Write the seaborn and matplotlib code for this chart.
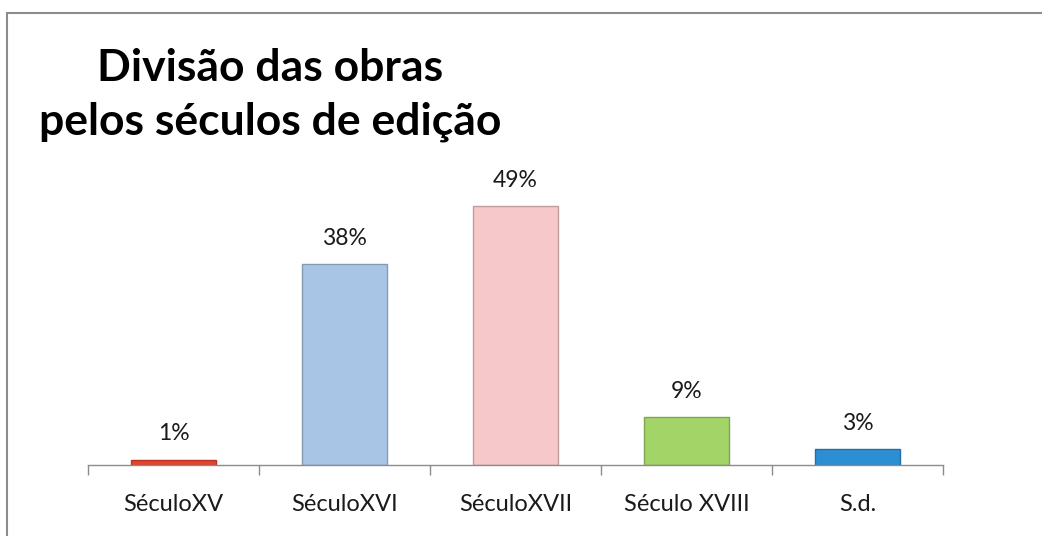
import matplotlib
matplotlib.use("Agg")
import matplotlib.pyplot as plt
import seaborn as sns
import pandas as pd
from matplotlib.lines import Line2D

categories = ["SéculoXV", "SéculoXVI", "SéculoXVII", "Século XVIII", "S.d."]
values = [0.01, 0.38, 0.49, 0.09, 0.03]
labels = ["1%", "38%", "49%", "9%", "3%"]
colors = ["#e8412c", "#a9c5e6", "#f6c8ca", "#a3d467", "#2d8fd3"]
title_lines = ["Divisão das obras", "pelos séculos de edição"]

sns.set_theme(style="white")
plt.rcParams['font.family'] = ['Lato', 'DejaVu Sans']

W, H = 1042, 536
fig = plt.figure(figsize=(W / 100, H / 100), dpi=100)
fig.patch.set_facecolor("white")
fig.lines.append(Line2D([7 / W, 7 / W], [0, 1 - 13 / H], transform=fig.transFigure, color="#8c8c8c", lw=1.5))
fig.lines.append(Line2D([7 / W, 1], [1 - 13 / H, 1 - 13 / H], transform=fig.transFigure, color="#8c8c8c", lw=1.5))

left, right, bottom, top = 88, 943, 465, 190
ax = fig.add_axes([left / W, 1 - bottom / H, (right - left) / W, (bottom - top) / H])

df = pd.DataFrame({"cat": categories, "val": values})
sns.barplot(data=df, x="cat", y="val", hue="cat", palette=colors, legend=False,
            width=0.5, ax=ax, edgecolor="none", saturation=1)

for i, p in enumerate(ax.patches):
    fc = p.get_facecolor()
    p.set_edgecolor(tuple(max(0, c * 0.78) for c in fc[:3]))
    p.set_linewidth(1.0)

for i, (v, lab) in enumerate(zip(values, labels)):
    ax.annotate(lab, (i, v), xytext=(0, 11), textcoords="offset points",
                ha="center", va="bottom", fontsize=16.5, color="#1a1a1a")

ax.set_ylim(0, 0.52)
ax.set_xlim(-0.5, len(categories) - 0.5)
ax.set_xlabel("")
ax.set_ylabel("")
ax.set_yticks([])
for s in ["top", "right", "left"]:
    ax.spines[s].set_visible(False)
ax.spines["bottom"].set_color("#8c8c8c")
ax.spines["bottom"].set_linewidth(1.0)

ax.set_xticks([x - 0.5 for x in range(len(categories) + 1)], minor=True)
ax.tick_params(axis="x", which="minor", bottom=True, length=7, color="#8c8c8c", width=1)
ax.tick_params(axis="x", which="major", bottom=False, labelsize=17, pad=15, labelcolor="#1a1a1a")

fig.text(270 / W, 1 - 81 / H, title_lines[0], ha="center", va="baseline",
         fontsize=32, fontweight="bold", color="black")
fig.text(270 / W, 1 - 135 / H, title_lines[1], ha="center", va="baseline",
         fontsize=32, fontweight="bold", color="black")

fig.savefig("out.png", dpi=100)
